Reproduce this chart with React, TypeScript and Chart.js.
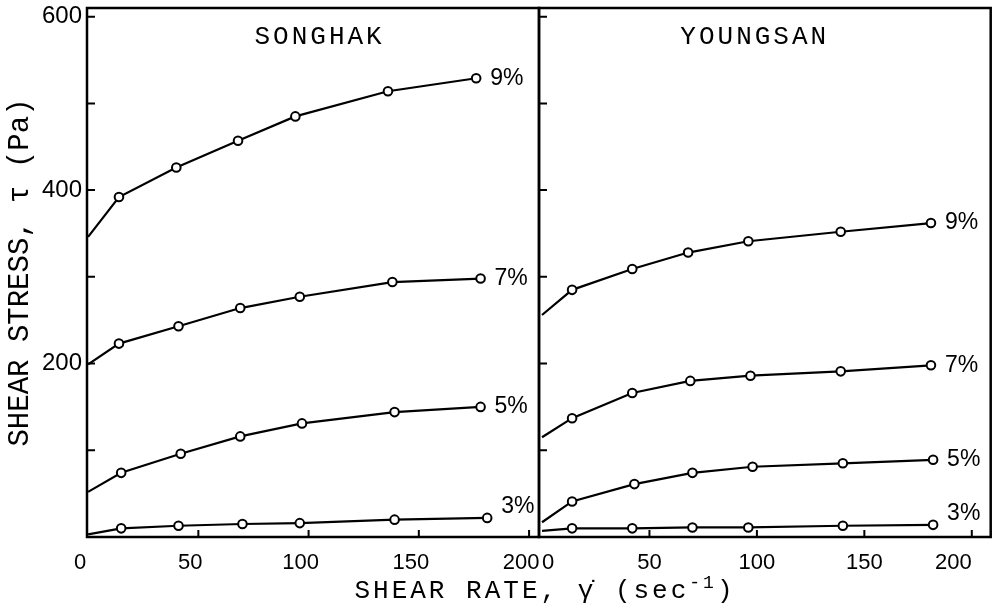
import { useEffect, useRef } from "react";
import { Chart, registerables } from "chart.js";

Chart.register(...registerables);

// ---- data ----
const seriesLabels = ["9%", "7%", "5%", "3%"];

// SONGHAK: shear rate (1/s) and shear stress (Pa)
const songhakRate9 = [0, 14, 40, 68, 94, 136, 176];
const songhakStress9 = [346, 392, 426, 457, 485, 514, 529];
const songhakRate7 = [0, 14, 41, 69, 96, 138, 178];
const songhakStress7 = [199, 223, 243, 264, 277, 294, 298];
const songhakRate5 = [0, 15, 42, 69, 97, 139, 178];
const songhakStress5 = [52, 74, 96, 116, 131, 144, 150];
const songhakRate3 = [0, 15, 41, 70, 96, 139, 181];
const songhakStress3 = [3, 10, 13, 15, 16, 20, 22];

// YOUNGSAN
const youngsanRate9 = [0, 14, 42, 68, 96, 139, 181];
const youngsanStress9 = [256, 285, 309, 328, 341, 352, 362];
const youngsanRate7 = [0, 14, 42, 69, 97, 139, 181];
const youngsanStress7 = [115, 137, 166, 180, 186, 191, 198];
const youngsanRate5 = [0, 14, 43, 70, 98, 140, 182];
const youngsanStress5 = [17, 41, 61, 74, 81, 85, 89];
const youngsanRate3 = [0, 14, 42, 70, 96, 140, 182];
const youngsanStress3 = [7, 10, 10, 11, 11, 13, 14];

const xTickValues = [0, 50, 100, 150, 200];
const yTickValues = [0, 100, 200, 300, 400, 500, 600];
const yTickLabels = ["", "", "200", "", "400", "", "600"];
const panelTitles = ["SONGHAK", "YOUNGSAN"];
const yAxisTitle = "SHEAR STRESS, \u03C4 (Pa)";

// ---- helpers ----
function pts(xs: number[], ys: number[]) {
  return xs.map((x, i) => ({ x, y: ys[i] }));
}

function makeDatasets(rates: number[][], stresses: number[][]) {
  return seriesLabels.map((label, i) => ({
    label,
    data: pts(rates[i], stresses[i]),
    borderColor: "#000",
    borderWidth: 2.2,
    tension: 0,
    pointRadius: (c: any) => (c.dataIndex === 0 ? 0 : 4.3),
    pointBackgroundColor: "#fff",
    pointBorderColor: "#000",
    pointBorderWidth: 2,
    labelDy: label === "3%" ? -11 : 0,
  }));
}

const framePlugin = {
  id: "frameTicks",
  afterDraw(chart: any, _args: any, opts: any) {
    const { ctx, chartArea: a, scales } = chart;
    ctx.save();
    ctx.strokeStyle = "#000";
    ctx.lineWidth = 2.5;
    ctx.strokeRect(a.left, a.top, a.right - a.left, a.bottom - a.top);
    ctx.lineWidth = 2;
    ctx.beginPath();
    scales.y.ticks.forEach((t: any) => {
      if (t.value === 0) return;
      const y = scales.y.getPixelForValue(t.value);
      ctx.moveTo(a.left, y);
      ctx.lineTo(a.left + 8, y);
    });
    scales.x.ticks.forEach((t: any) => {
      if (t.value === 0) return;
      const x = scales.x.getPixelForValue(t.value);
      ctx.moveTo(x, a.bottom);
      ctx.lineTo(x, a.bottom - 7);
    });
    ctx.stroke();
    // panel title
    ctx.fillStyle = "#000";
    ctx.font = "26px 'Liberation Mono', monospace";
    (ctx as any).letterSpacing = "3px";
    ctx.textAlign = "center";
    ctx.textBaseline = "middle";
    ctx.fillText(opts.title, scales.x.getPixelForValue(opts.titleAt), a.top + 29);
    ctx.restore();
  },
};

const seriesLabelPlugin = {
  id: "seriesLabels",
  afterDatasetsDraw(chart: any) {
    const { ctx } = chart;
    ctx.save();
    ctx.fillStyle = "#000";
    ctx.font = "23px 'Liberation Sans', sans-serif";
    ctx.textAlign = "left";
    ctx.textBaseline = "middle";
    chart.data.datasets.forEach((ds: any, i: number) => {
      const meta = chart.getDatasetMeta(i);
      const last = meta.data[meta.data.length - 1];
      ctx.fillText(ds.label, last.x + 14, last.y + (ds.labelDy || 0));
    });
    ctx.restore();
  },
};

function makeConfig(
  datasets: any[],
  opts: {
    padLeft: number;
    padRight: number;
    yWidth: number;
    xMin: number;
    xMax: number;
    showYLabels: boolean;
    title: string;
    titleAt: number;
    xAlign: string;
    xLabelOffset: number;
  }
): any {
  return {
    type: "line",
    data: { datasets },
    plugins: [framePlugin, seriesLabelPlugin],
    options: {
      animation: false,
      responsive: false,
      devicePixelRatio: 1,
      layout: { padding: { left: opts.padLeft, right: opts.padRight, top: 8, bottom: 0 } },
      plugins: {
        legend: { display: false },
        tooltip: { enabled: false },
        frameTicks: { title: opts.title, titleAt: opts.titleAt },
      },
      scales: {
        x: {
          type: "linear",
          min: opts.xMin,
          max: opts.xMax,
          afterBuildTicks: (s: any) => {
            s.ticks = xTickValues.map((v) => ({ value: v }));
          },
          afterFit: (s: any) => {
            s.height = 75;
            s.paddingLeft = 0;
            s.paddingRight = 0;
          },
          grid: { display: false, drawTicks: false },
          border: { display: false },
          ticks: {
            font: { family: "'Liberation Sans', sans-serif", size: 22 },
            color: "#000",
            padding: 13,
            align: opts.xAlign,
            labelOffset: opts.xLabelOffset,
            maxRotation: 0,
            autoSkip: false,
          },
        },
        y: {
          type: "linear",
          min: 0,
          max: 610,
          afterBuildTicks: (s: any) => {
            s.ticks = yTickValues.map((v) => ({ value: v }));
          },
          afterFit: (s: any) => {
            s.width = opts.yWidth;
            s.paddingTop = 0;
            s.paddingBottom = 0;
          },
          grid: { display: false, drawTicks: false },
          border: { display: false },
          ticks: {
            display: opts.showYLabels,
            callback: (v: number) => yTickLabels[yTickValues.indexOf(v)] ?? "",
            font: { family: "'Liberation Sans', sans-serif", size: 24 },
            color: "#000",
            padding: 5,
          },
          title: {
            display: opts.showYLabels,
            text: yAxisTitle,
            font: { family: "'Liberation Mono', monospace", size: 29 },
            color: "#000",
            padding: { top: 3, bottom: 0 },
          },
        },
      },
    },
  };
}

export default function App() {
  const leftRef = useRef<HTMLCanvasElement>(null);
  const rightRef = useRef<HTMLCanvasElement>(null);

  useEffect(() => {
    const left = new Chart(
      leftRef.current!,
      makeConfig(
        makeDatasets(
          [songhakRate9, songhakRate7, songhakRate5, songhakRate3],
          [songhakStress9, songhakStress7, songhakStress5, songhakStress3]
        ),
        {
          padLeft: 0,
          padRight: 458,
          yWidth: 87,
          xMin: -0.5,
          xMax: 204.5,
          showYLabels: true,
          title: panelTitles[0],
          titleAt: 105,
          xAlign: "center",
          xLabelOffset: -8,
        }
      )
    );
    const right = new Chart(
      rightRef.current!,
      makeConfig(
        makeDatasets(
          [youngsanRate9, youngsanRate7, youngsanRate5, youngsanRate3],
          [youngsanStress9, youngsanStress7, youngsanStress5, youngsanStress3]
        ),
        {
          padLeft: 539,
          padRight: 2,
          yWidth: 0,
          xMin: -1.4,
          xMax: 208.8,
          showYLabels: false,
          title: panelTitles[1],
          titleAt: 99,
          xAlign: "inner",
          xLabelOffset: 0,
        }
      )
    );
    return () => {
      left.destroy();
      right.destroy();
    };
  }, []);

  const canvasStyle: any = { position: "absolute", left: 0, top: 0, width: 997, height: 612 };

  return (
    <div style={{ position: "absolute", left: 0, top: 0, width: 997, height: 612, background: "#fff" }}>
      <canvas ref={leftRef} width={997} height={612} style={canvasStyle} />
      <canvas ref={rightRef} width={997} height={612} style={canvasStyle} />
      <div
        style={{
          position: "absolute",
          left: 345,
          width: 400,
          top: 576,
          textAlign: "center",
          fontFamily: "'Liberation Mono', monospace",
          fontSize: 26,
          lineHeight: "30px",
          letterSpacing: "3px",
          color: "#000",
          whiteSpace: "nowrap",
        }}
      >
        SHEAR RATE, {"\u03B3\u0307"} (sec
        <sup style={{ fontSize: 18, lineHeight: 0, verticalAlign: "super" }}>-1</sup>)
      </div>
    </div>
  );
}
